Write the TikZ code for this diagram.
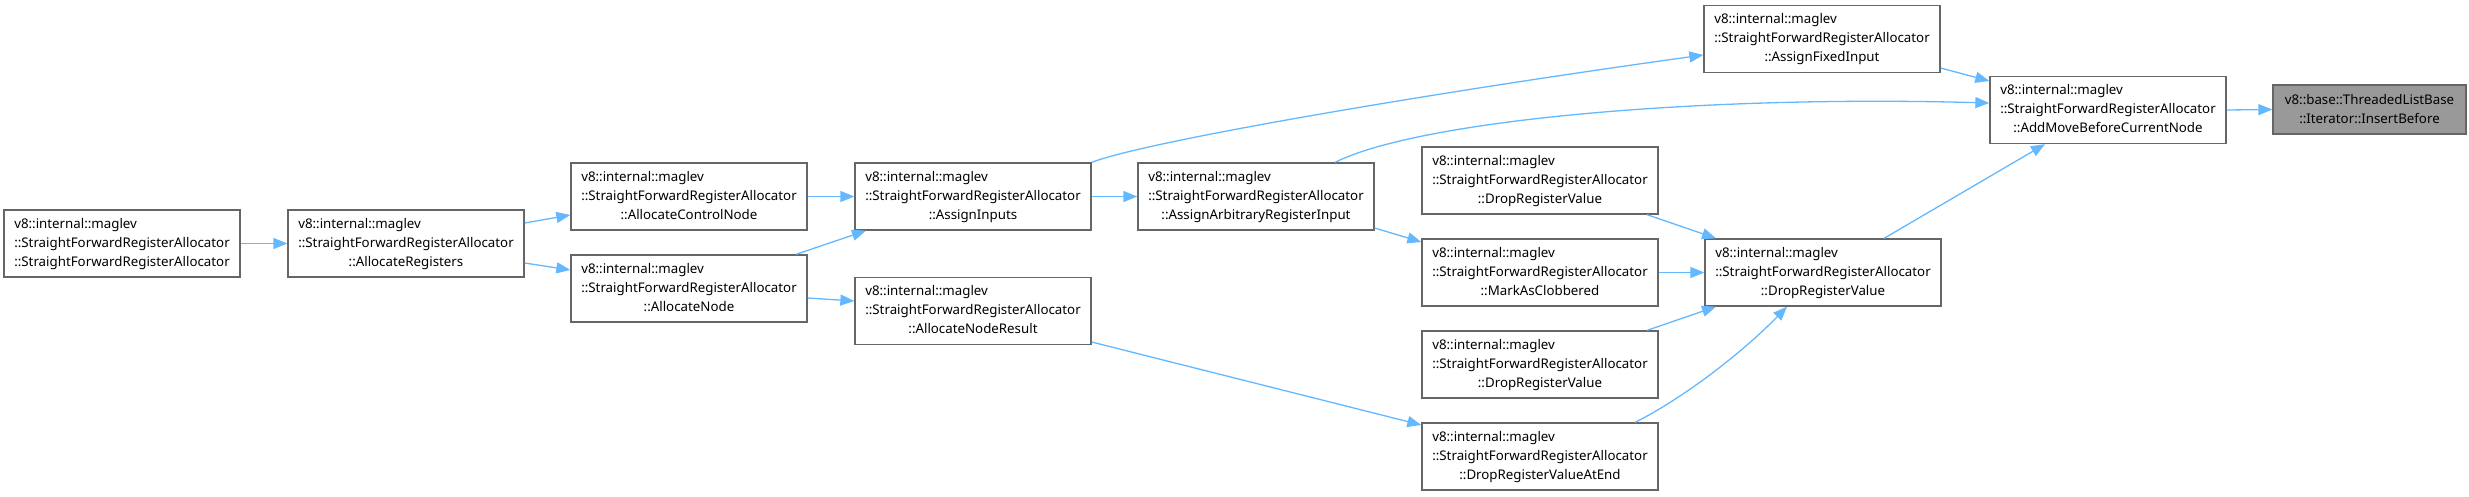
\documentclass[tikz,border=0pt]{standalone}
\usepackage{fontspec}
\setmainfont{Noto Sans}
\usetikzlibrary{arrows.meta}
\definecolor{edgeblue}{HTML}{63B8FF}
\definecolor{boxgray}{HTML}{666666}
\definecolor{fillgray}{HTML}{999999}
\newcommand\trip[1]{\begin{tabular}{@{}c@{}}\rlap{v8::internal::maglev}\phantom{::StraightForwardRegisterAllocator}\\::StraightForwardRegisterAllocator\\#1\end{tabular}}
\tikzset{
  fn/.style={draw=boxgray, line width=1.3pt, fill=white, minimum width=236pt, minimum height=67pt, inner sep=0pt, font=\fontsize{13.3}{19}\selectfont},
  hl/.style={draw=boxgray, line width=1.3pt, fill=fillgray, minimum width=193pt, minimum height=49pt, inner sep=0pt, font=\fontsize{13.3}{19}\selectfont, align=center},
  ed/.style={draw=edgeblue, line width=1.3pt, -{Triangle[length=14pt,width=11pt]}}
}
\begin{document}
\begin{tikzpicture}[x=1pt,y=-1pt]
\useasboundingbox (0,0) rectangle (2469,496);
\node[fn] (n1) at (122,243.5) {\begin{tabular}{@{}l@{}}v8::internal::maglev\\::StraightForwardRegisterAllocator\\::StraightForwardRegisterAllocator\end{tabular}};
\node[fn] (n2) at (406,243.5) {\trip{::AllocateRegisters}};
\node[fn] (n3) at (689,196.5) {\trip{::AllocateControlNode}};
\node[fn] (n4) at (689,288.5) {\trip{::AllocateNode}};
\node[fn] (n5) at (973,196.5) {\trip{::AssignInputs}};
\node[fn] (n6) at (973,311) {\trip{::AllocateNodeResult}};
\node[fn] (n7) at (1256,196.5) {\trip{::AssignArbitraryRegisterInput}};
\node[fn] (n8) at (1822,39) {\trip{::AssignFixedInput}};
\node[fn] (n9) at (1540,180.5) {\trip{::DropRegisterValue}};
\node[fn] (n10) at (1540,272.5) {\trip{::MarkAsClobbered}};
\node[fn] (n11) at (1540,364.5) {\trip{::DropRegisterValue}};
\node[fn] (n12) at (1540,456.5) {\trip{::DropRegisterValueAtEnd}};
\node[fn] (n13) at (1823,272.5) {\trip{::DropRegisterValue}};
\node[fn] (n14) at (2108,110) {\trip{::AddMoveBeforeCurrentNode}};
\node[hl] (n15) at (2369.5,109.5) {v8::base::ThreadedListBase\\::Iterator::InsertBefore};

\draw[ed] (n1.east) -- (n2.west);
\draw[ed] (n2.east |- 0,223) -- (n3.west |- 0,215);
\draw[ed] (n2.east |- 0,263) -- (n4.west |- 0,270);
\draw[ed] (n3.east) -- (n5.west);
\draw[ed] (n4.north -| 796,0) -- (n5.south -| 866,0);
\draw[ed] (n4.east |- 0,298) -- (n6.west |- 0,301);
\draw[ed] (n5.east) -- (n7.west);
\draw[ed] (n5.north east) .. controls (1150,140) and (1450,90) .. (n8.west |- 0,55);
\draw[ed] (n7.north -| 1335,0) .. controls (1420,120) and (1700,95) .. (n14.west |- 0,103);
\draw[ed] (n7.east |- 0,228) -- (n10.west |- 0,242);
\draw[ed] (n6.east |- 0,342) -- (n12.west |- 0,425);
\draw[ed] (n9.south -| 1647,0) -- (n13.north -| 1716,0);
\draw[ed] (n10.east) -- (n13.west);
\draw[ed] (n11.north -| 1647,0) -- (n13.south -| 1716,0);
\draw[ed] (n12.north -| 1635,0) .. controls (1680,400) and (1740,355) .. (n13.south -| 1787,0);
\draw[ed] (n13.north -| 1884,0) -- (n14.south -| 2045,0);
\draw[ed] (n8.east |- 0,68) -- (n14.west |- 0,81);
\draw[ed] (n14.east) -- (n15.west);
\end{tikzpicture}
\end{document}
